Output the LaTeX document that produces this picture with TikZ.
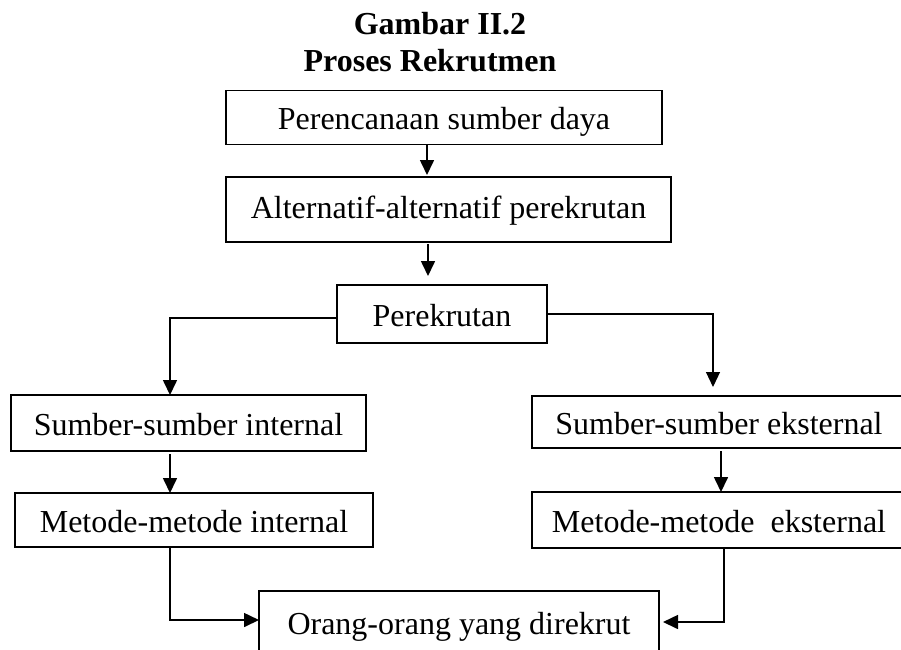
\documentclass[tikz,border=0pt]{standalone}
\usepackage{fontspec}
\setmainfont{Liberation Serif}
\usetikzlibrary{arrows.meta}
\tikzset{
  box/.style={draw, line width=1.4pt, inner sep=0pt, outer sep=0pt,
    text height=24pt, text depth=0pt,
    font=\fontsize{32pt}{38pt}\selectfont},
  ttl/.style={anchor=base, inner sep=0pt, font=\fontsize{32pt}{38pt}\selectfont\bfseries},
  arr/.style={line width=1.6pt, -{Triangle[length=15pt,width=14pt]}},
  thinarr/.style={line width=1.1pt, -{Triangle[length=15pt,width=14pt]}}
}
\begin{document}
\begin{tikzpicture}[x=1pt,y=-1pt]
\useasboundingbox (0,0) rectangle (901,649);
\clip (0,0) rectangle (901,649);
% title
\node[ttl] (t1) at (440,34) {Gambar II.2};
\node[ttl] (t2) at (430,71) {Proses Rekrutmen};
% boxes
\node[box, minimum width=436pt, minimum height=54pt] (b1) at (444,117.5) {Perencanaan sumber daya};
\node[box, minimum width=445pt, minimum height=65pt, text height=17pt] (b2) at (448.5,209.5) {Alternatif-alternatif perekrutan};
\node[box, minimum width=210pt, minimum height=58pt] (b3) at (442,314) {Perekrutan};
\node[box, minimum width=355pt, minimum height=56pt] (si) at (188.5,423) {Sumber-sumber internal};
\node[box, minimum width=358pt, minimum height=54pt] (mi) at (194,520) {Metode-metode internal};
\node[box, minimum width=374pt, minimum height=52pt] (se) at (719,422) {Sumber-sumber eksternal};
\node[box, minimum width=374pt, minimum height=56pt] (me) at (719,520) {Metode-metode\ \ eksternal};
\node[box, minimum width=400pt, minimum height=62pt] (or) at (459,622) {Orang-orang yang direkrut};
% guide coordinates
\coordinate (x1) at (427,0);
\coordinate (x2) at (428,0);
\coordinate (xl) at (170,0);
\coordinate (xr) at (713,0);
\coordinate (xe) at (721,0);
\coordinate (xm) at (724,0);
% connectors
\draw[arr, shorten >=2pt] (b1.south -| x1) -- (b2.north -| x1);
\draw[arr, shorten <=2pt, shorten >=9pt] (b2.south -| x2) -- (b3.north -| x2);
\draw[arr] ([yshift=-4pt]b3.west) -| (xl |- si.north);
\draw[thinarr, shorten >=9pt] (b3.east) -| (xr |- se.north);
\draw[arr, shorten <=3pt] (si.south -| xl) -- (mi.north -| xl);
\draw[arr, shorten <=3pt] (se.south -| xe) -- (me.north -| xe);
\draw[arr] (mi.south -| xl) |- ([yshift=2pt]or.west);
\draw[arr, shorten >=4pt] (me.south -| xm) |- (or.east);
\end{tikzpicture}
\end{document}
